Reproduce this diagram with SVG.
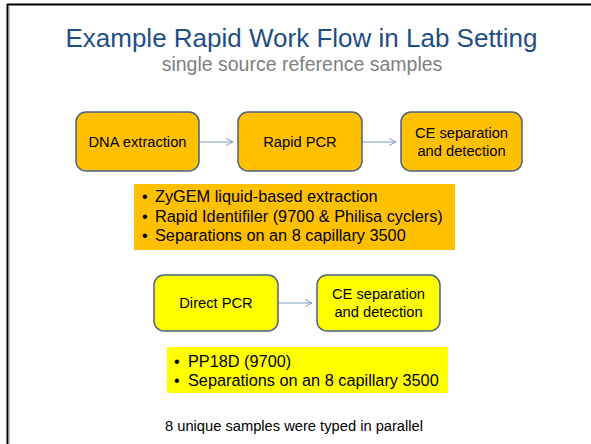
<svg xmlns="http://www.w3.org/2000/svg" width="591" height="444" viewBox="0 0 591 444">
<defs>
<marker id="ah" markerWidth="10" markerHeight="10" refX="8" refY="4" orient="auto" markerUnits="userSpaceOnUse">
<path d="M1,0.5 L8,4 L1,7.5" fill="none" stroke="#7F9BC6" stroke-width="1"/>
</marker>
</defs>
<style>
text{font-family:"Liberation Sans",Arial,sans-serif;fill:#000}
.t{font-size:26px;fill:#1F4E85}
.s{font-size:19.5px;fill:#808080}
.n{font-size:14.7px;text-anchor:middle}
.b{font-size:16.3px}
.o{fill:#FFC000;stroke:#4A6283;stroke-width:1.5}
.y{fill:#FFFF00;stroke:#4A6283;stroke-width:1.5}
.c{stroke:#7F9BC6;stroke-width:1;fill:none;marker-end:url(#ah)}
</style>
<rect width="591" height="444" fill="#fff"/>
<line x1="7" y1="4.5" x2="591" y2="4.5" stroke="#000" stroke-width="2"/>
<line x1="7.5" y1="4" x2="7.5" y2="444" stroke="#000" stroke-width="2"/>
<line x1="9" y1="6" x2="9" y2="444" stroke="#999" stroke-width="1"/>
<text class="t" x="301.5" y="47" text-anchor="middle">Example Rapid Work Flow in Lab Setting</text>
<text class="s" x="302" y="71" text-anchor="middle">single source reference samples</text>
<g id="connectors">
<line class="c" x1="199" y1="142" x2="233" y2="142"/>
<line class="c" x1="362" y1="142" x2="396" y2="142"/>
<line class="c" x1="278" y1="303" x2="312" y2="303"/>
</g>
<g id="dna">
<rect class="o" x="76" y="112" width="123" height="59" rx="10"/>
<text class="n" x="137.5" y="147">DNA extraction</text>
</g>
<g id="rapid">
<rect class="o" x="238" y="112" width="124" height="59" rx="10"/>
<text class="n" x="300" y="147">Rapid PCR</text>
</g>
<g id="ce1">
<rect class="o" x="401" y="112" width="121" height="59" rx="10"/>
<text class="n" x="461.5" y="138">CE separation</text>
<text class="n" x="461.5" y="156">and detection</text>
</g>
<g id="notes1">
<rect x="134" y="184" width="321" height="66" fill="#FFC000"/>
<text class="b" x="142" y="202">•</text><text class="b" x="155" y="202">ZyGEM liquid-based extraction</text>
<text class="b" x="142" y="222">•</text><text class="b" x="155" y="222">Rapid Identifiler (9700 &amp; Philisa cyclers)</text>
<text class="b" x="142" y="241">•</text><text class="b" x="155" y="241">Separations on an 8 capillary 3500</text>
</g>
<g id="direct">
<rect class="y" x="154" y="275" width="124" height="56" rx="10"/>
<text class="n" x="216" y="308">Direct PCR</text>
</g>
<g id="ce2">
<rect class="y" x="317" y="275" width="123" height="56" rx="10"/>
<text class="n" x="378.5" y="299">CE separation</text>
<text class="n" x="378.5" y="317">and detection</text>
</g>
<g id="notes2">
<rect x="167" y="347" width="281" height="46" fill="#FFFF00"/>
<text class="b" x="174" y="367">•</text><text class="b" x="188" y="367">PP18D (9700)</text>
<text class="b" x="174" y="386">•</text><text class="b" x="188" y="386">Separations on an 8 capillary 3500</text>
</g>
<text x="165" y="431" font-size="14.7">8 unique samples were typed in parallel</text>
</svg>
